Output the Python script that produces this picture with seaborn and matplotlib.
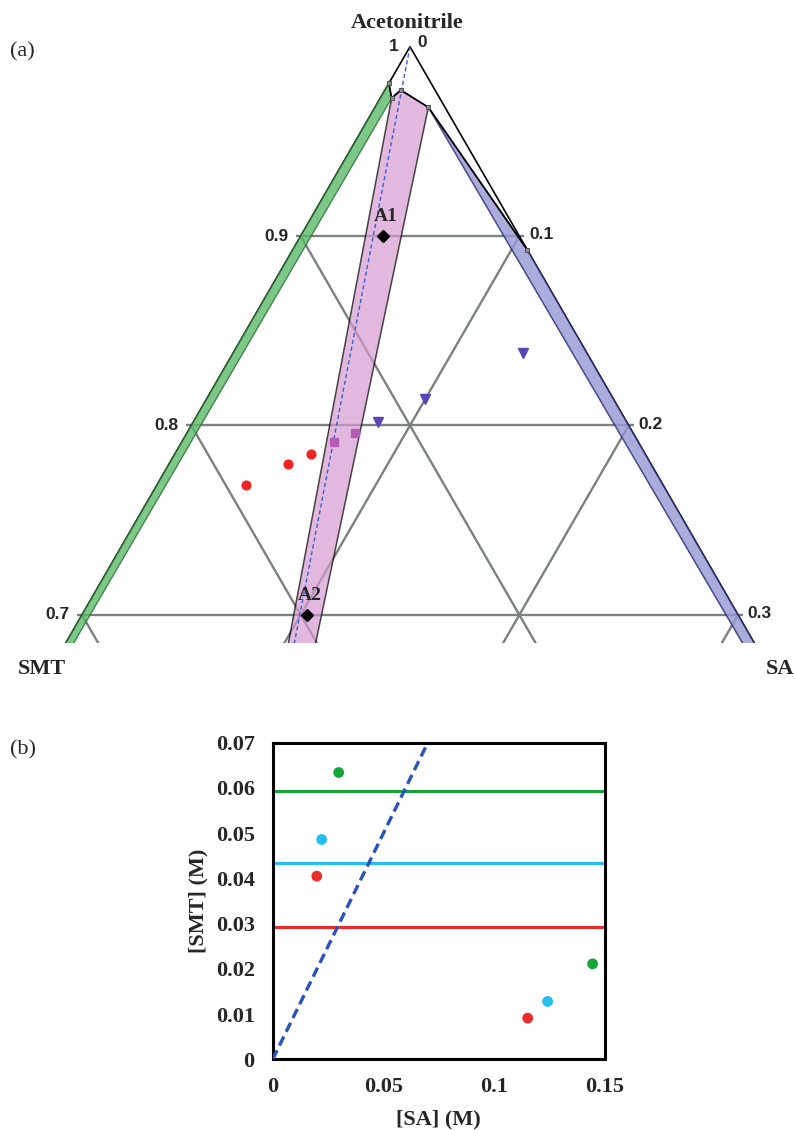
import numpy as np
import pandas as pd
import matplotlib
matplotlib.use("Agg")
import matplotlib.pyplot as plt
from matplotlib.patches import Polygon
import seaborn as sns

# ---- (a) ternary data: mass fractions (acetonitrile, SA); SMT = 1 - acn - sa ----
# solubility curve: SMT solubility, eutectic 1, cocrystal top, eutectic 2, SA solubility
curve_acn = [0.9807, 0.9728, 0.9771, 0.9680, 0.8927]
curve_sa = [0.0, 0.0052, 0.0072, 0.0244, 0.1073]
cocrystal_sa = 0.332  # 1:1 molar SMT:SA on the solvent-free edge

red_acn = [0.7686, 0.7795, 0.7850]
red_sa = [0.0406, 0.0546, 0.0621]
square_acn = [0.7914, 0.7959]
square_sa = [0.0696, 0.0769]
tri_acn = [0.8020, 0.8140, 0.8381]
tri_sa = [0.0845, 0.0999, 0.1325]
point_names = ["A1", "A2"]
point_acn = [0.90, 0.70]
point_sa = [0.0378, 0.103]

grid_levels = [0.1, 0.2, 0.3]
left_ticks = ["0.9", "0.8", "0.7"]
right_ticks = ["0.1", "0.2", "0.3"]

# ---- (b) concentration data (M) ----
sa_conc = [0.0199, 0.0221, 0.0298, 0.1151, 0.1241, 0.1444]
smt_conc = [0.0405, 0.0486, 0.0634, 0.0091, 0.0128, 0.0211]
series = ["red", "cyan", "green", "red", "cyan", "green"]
smt_solubility = {"red": 0.0293, "cyan": 0.0433, "green": 0.0593}
ratio_x = [0.0, 0.07]
ratio_y = [0.0, 0.07]
palette = {"red": "#ee2b2b", "cyan": "#22bff0", "green": "#13a538"}

sns.set_theme(style="white")
plt.rcParams["font.family"] = ["Liberation Serif", "DejaVu Serif"]

W, H = 795, 1130
fig = plt.figure(figsize=(W / 100, H / 100), dpi=100)

S3 = np.sqrt(3) / 2


def to_xy(acn, sa):
    acn = np.asarray(acn, dtype=float)
    sa = np.asarray(sa, dtype=float)
    return sa + acn / 2, acn * S3


# ternary axes mapped so that apex lands at pixel (410, 46.7)
cut = 643
scale = 2187.0
apex_px = (410, 46.7)
ax_t = fig.add_axes([0, 1 - cut / H, 1, cut / H])
ax_t.set_xlim(0.5 - apex_px[0] / scale, 0.5 + (W - apex_px[0]) / scale)
ax_t.set_ylim(S3 - (cut - apex_px[1]) / scale, S3 + apex_px[1] / scale)
ax_t.axis("off")

grid_kw = dict(color="#7b8081", lw=1.7, zorder=1, solid_capstyle="butt")
ext = 5 / scale
for g, lt, rt in zip(grid_levels, left_ticks, right_ticks):
    # constant acetonitrile
    xa, ya = to_xy(1 - g, 0)
    xb, yb = to_xy(1 - g, g)
    ax_t.plot([xa - ext, xb + ext], [ya, yb], **grid_kw)
    ax_t.annotate(lt, (xa, ya), xytext=(-9, 0), textcoords="offset points",
                  ha="right", va="center", fontsize=12.5, fontweight="bold",
                  family="Liberation Sans")
    ax_t.annotate(rt, (xb, yb), xytext=(7, 1), textcoords="offset points",
                  ha="left", va="center", fontsize=12.5, fontweight="bold",
                  family="Liberation Sans")
    # constant SMT (parallel to right edge)
    xa, ya = to_xy(1 - g, 0)
    xb, yb = to_xy(0, 1 - g)
    ax_t.plot([xa, xb], [ya, yb], **grid_kw)
    # constant SA (parallel to left edge)
    xa, ya = to_xy(1 - g, g)
    xb, yb = to_xy(0, g)
    ax_t.plot([xa, xb], [ya, yb], **grid_kw)

# triangle outline
tx, ty = to_xy([0, 1, 0], [0, 0, 1])
ax_t.plot(tx, ty, color="black", lw=1.2, zorder=2)
ax_t.annotate("1", (tx[1], ty[1]), xytext=(-8, 0), textcoords="offset points",
              ha="right", va="center", fontsize=12.5, fontweight="bold",
              family="Liberation Sans")
ax_t.annotate("0", (tx[1], ty[1]), xytext=(5, 3), textcoords="offset points",
              ha="left", va="center", fontsize=12.5, fontweight="bold",
              family="Liberation Sans")

cx, cy = to_xy(curve_acn, curve_sa)
smt_v = to_xy(0, 0)
sa_v = to_xy(0, 1)
co_v = to_xy(0, cocrystal_sa)

green = Polygon([(cx[0], cy[0]), (cx[1], cy[1]), smt_v], closed=True,
                facecolor="#5dba69", alpha=0.8, edgecolor="#2b6e35", lw=1.0, zorder=3)
pink = Polygon([(cx[1], cy[1]), (cx[2], cy[2]), (cx[3], cy[3]), co_v], closed=True,
               facecolor="#d69bd0", alpha=0.7, edgecolor="black", lw=1.1, zorder=3)
blue = Polygon([(cx[3], cy[3]), (cx[4], cy[4]), sa_v], closed=True,
               facecolor="#9597d3", alpha=0.8, edgecolor="#232a6e", lw=1.1, zorder=3)
for p in (green, pink, blue):
    ax_t.add_patch(p)

# cocrystal stoichiometric line
ax_t.plot([tx[1], co_v[0]], [ty[1], co_v[1]], color="#3a5fcd", lw=1.0,
          linestyle=(0, (3, 2)), zorder=4)

# solubility curve
ax_t.plot(cx, cy, color="black", lw=1.2, marker="s", ms=3.2,
          mfc="#8a8f90", mec="#444444", mew=0.6, zorder=5)

rx, ry = to_xy(red_acn, red_sa)
ax_t.plot(rx, ry, "o", color="#ee2424", ms=6.3, zorder=6)
qx, qy = to_xy(square_acn, square_sa)
ax_t.plot(qx, qy, "s", color="#b45bb4", ms=6, zorder=6)
vx, vy = to_xy(tri_acn, tri_sa)
ax_t.plot(vx, vy, "v", color="#5b45b5", ms=6.5, zorder=6)
px, py = to_xy(point_acn, point_sa)
ax_t.plot(px, py, "D", color="black", ms=6.5, zorder=7)
for name, x, y in zip(point_names, px, py):
    ax_t.annotate(name, (x, y), xytext=(2, 8), textcoords="offset points",
                  ha="center", va="bottom", fontsize=14, fontweight="bold", zorder=8)

fig.text(407 / W, 1 - 23 / H, "Acetonitrile", ha="center", va="center",
         fontsize=16, fontweight="bold")
fig.text(18 / W, 1 - 669 / H, "SMT", ha="left", va="center", fontsize=16, fontweight="bold")
fig.text(794 / W, 1 - 669 / H, "SA", ha="right", va="center", fontsize=16, fontweight="bold")
fig.text(10 / W, 1 - 52 / H, "(a)", ha="left", va="center", fontsize=16)
fig.text(10 / W, 1 - 750 / H, "(b)", ha="left", va="center", fontsize=16)

# ---- (b) ----
ax_b = fig.add_axes([272.7 / W, 1 - 1059.3 / H, 332.3 / W, 316.6 / H])
for key, level in smt_solubility.items():
    ax_b.axhline(level, color=palette[key], lw=2.2, zorder=2)
sns.lineplot(x=ratio_x, y=ratio_y, ax=ax_b, color="#2a52b8", lw=2.4,
             linestyle=(0, (3, 1.6)), zorder=3)
df = pd.DataFrame({"SA": sa_conc, "SMT": smt_conc, "series": series})
sns.scatterplot(data=df, x="SA", y="SMT", hue="series", palette=palette,
                s=60, edgecolor="none", legend=False, ax=ax_b, zorder=4)
ax_b.set_xlim(0, 0.15)
ax_b.set_ylim(0, 0.07)
ax_b.set_xticks([0, 0.05, 0.1, 0.15])
ax_b.set_xticklabels(["0", "0.05", "0.1", "0.15"])
ax_b.set_yticks([0, 0.01, 0.02, 0.03, 0.04, 0.05, 0.06, 0.07])
ax_b.set_yticklabels(["0", "0.01", "0.02", "0.03", "0.04", "0.05", "0.06", "0.07"])
ax_b.tick_params(length=0, labelsize=16, pad=13)
for lab in ax_b.get_xticklabels() + ax_b.get_yticklabels():
    lab.set_fontweight("bold")
ax_b.set_xlabel("[SA] (M)", fontsize=16, fontweight="bold", labelpad=9)
ax_b.set_ylabel("[SMT] (M)", fontsize=16, fontweight="bold", labelpad=5)
for sp in ax_b.spines.values():
    sp.set_color("black")
    sp.set_linewidth(2.2)
ax_b.grid(False)

fig.savefig("out.png", dpi=100, facecolor="white")
